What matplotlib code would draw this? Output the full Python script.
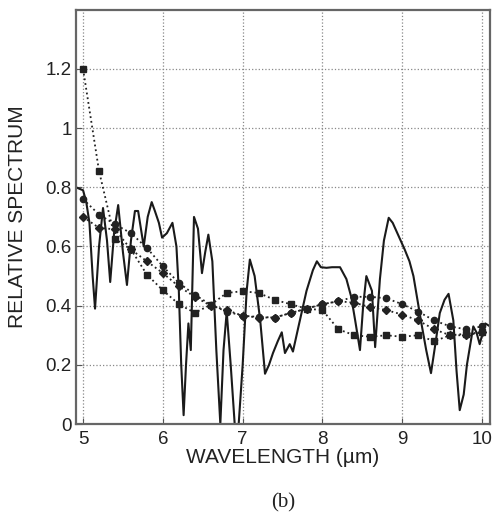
import matplotlib
matplotlib.use("Agg")
import matplotlib.pyplot as plt

# measured spectrum (solid line)
spec_x = [4.91, 5.0, 5.04, 5.08, 5.12, 5.15, 5.2, 5.25, 5.3, 5.34, 5.39, 5.44, 5.5, 5.55,
          5.6, 5.65, 5.69, 5.76, 5.81, 5.86, 5.9, 5.95, 5.99, 6.05, 6.12, 6.17, 6.2, 6.23,
          6.26, 6.29, 6.32, 6.35, 6.39, 6.44, 6.49, 6.53, 6.57, 6.62, 6.67, 6.72, 6.76,
          6.8, 6.85, 6.9, 6.95, 7.0, 7.05, 7.09, 7.15, 7.22, 7.28, 7.33, 7.38, 7.44, 7.49,
          7.53, 7.59, 7.63, 7.7, 7.8, 7.88, 7.93, 7.98, 8.05, 8.12, 8.22, 8.3, 8.36, 8.41,
          8.47, 8.51, 8.55, 8.62, 8.66, 8.72, 8.77, 8.83, 8.88, 8.93, 8.98, 9.03, 9.09,
          9.14, 9.24, 9.3, 9.36, 9.42, 9.47, 9.53, 9.58, 9.64, 9.68, 9.72, 9.77, 9.81,
          9.89, 9.93, 9.97, 10.04, 10.1]
spec_y = [0.80, 0.79, 0.75, 0.68, 0.50, 0.39, 0.60, 0.73, 0.62, 0.48, 0.65, 0.74, 0.58, 0.47,
          0.62, 0.72, 0.72, 0.60, 0.70, 0.75, 0.72, 0.68, 0.63, 0.645, 0.68, 0.60, 0.45, 0.20,
          0.03, 0.20, 0.34, 0.25, 0.70, 0.66, 0.51, 0.58, 0.64, 0.55, 0.25, 0.0, 0.25,
          0.38, 0.20, 0.0, 0.0, 0.20, 0.45, 0.556, 0.50, 0.35, 0.17, 0.20, 0.24, 0.28, 0.31,
          0.24, 0.27, 0.245, 0.33, 0.45, 0.52, 0.55, 0.53, 0.528, 0.53, 0.53, 0.49, 0.43, 0.35,
          0.25, 0.40, 0.50, 0.45, 0.26, 0.49, 0.62, 0.697, 0.68, 0.65, 0.62, 0.59, 0.55,
          0.50, 0.34, 0.25, 0.172, 0.28, 0.375, 0.42, 0.44, 0.35, 0.18, 0.047, 0.10, 0.20,
          0.33, 0.31, 0.27, 0.34, 0.33]

# model curves (dotted, with markers)
model_x = [5.0, 5.2, 5.4, 5.6, 5.8, 6.0, 6.2, 6.4, 6.6, 6.8, 7.0, 7.2, 7.4,
           7.6, 7.8, 8.0, 8.2, 8.4, 8.6, 8.8, 9.0, 9.2, 9.4, 9.6, 9.8, 10.0]
model_a = [1.20, 0.855, 0.626, 0.59, 0.505, 0.452, 0.405, 0.376, 0.403, 0.443, 0.449, 0.443, 0.42,
           0.405, 0.39, 0.385, 0.32, 0.30, 0.295, 0.30, 0.295, 0.30, 0.28, 0.30, 0.305, 0.31]
model_b = [0.76, 0.708, 0.675, 0.645, 0.595, 0.533, 0.477, 0.437, 0.403, 0.38, 0.366, 0.362, 0.36,
           0.375, 0.39, 0.405, 0.415, 0.43, 0.43, 0.425, 0.405, 0.38, 0.35, 0.33, 0.32, 0.33]
model_c = [0.70, 0.663, 0.658, 0.59, 0.55, 0.51, 0.465, 0.43, 0.40, 0.385, 0.366, 0.36, 0.36,
           0.375, 0.39, 0.405, 0.415, 0.41, 0.395, 0.385, 0.37, 0.35, 0.32, 0.30, 0.30, 0.31]

xticks = [5, 6, 7, 8, 9, 10]
yticks = [0, 0.2, 0.4, 0.6, 0.8, 1, 1.2]
ytick_labels = ["0", "0.2", "0.4", "0.6", "0.8", "1", "1.2"]

plt.rcParams['font.family'] = ['Liberation Sans', 'DejaVu Sans']

fig = plt.figure(figsize=(4.96, 5.14), dpi=100)
ax = fig.add_axes([0.153, 0.175, 0.835, 0.806])

ax.plot(spec_x, spec_y, '-', color='#1a1a1a', lw=1.5)
ax.plot(model_x, model_a, ':', color='#222222', lw=1.3, marker='s', ms=4.5)
ax.plot(model_x, model_b, ':', color='#222222', lw=1.3, marker='o', ms=4.5)
ax.plot(model_x, model_c, ':', color='#222222', lw=1.3, marker='D', ms=4)

ax.set_xlim(4.91, 10.1)
ax.set_ylim(0, 1.4)
ax.set_xticks(xticks)
ax.set_yticks(yticks)
ax.set_yticklabels(ytick_labels)
ax.tick_params(direction='in', labelsize=13.5, length=4, color='#555555', pad=3,
               labelcolor='#222222')
ax.tick_params(axis='x', pad=5)
ax.grid(True, linestyle=':', color='#888888', lw=0.9)
for s in ax.spines.values():
    s.set_color('#666666')
    s.set_linewidth(1.6)

ax.set_xlabel("WAVELENGTH (µm)", fontsize=15, labelpad=0, color='#222222')
ax.set_ylabel("RELATIVE SPECTRUM", fontsize=15, color='#222222')
ax.yaxis.set_label_coords(-0.118, 0.5)

ax.text(0.5, -0.19, "(b)", transform=ax.transAxes, ha='center', va='center',
        fontsize=15, family='Liberation Serif', color='#222222')

fig.savefig("out.png", dpi=100)
